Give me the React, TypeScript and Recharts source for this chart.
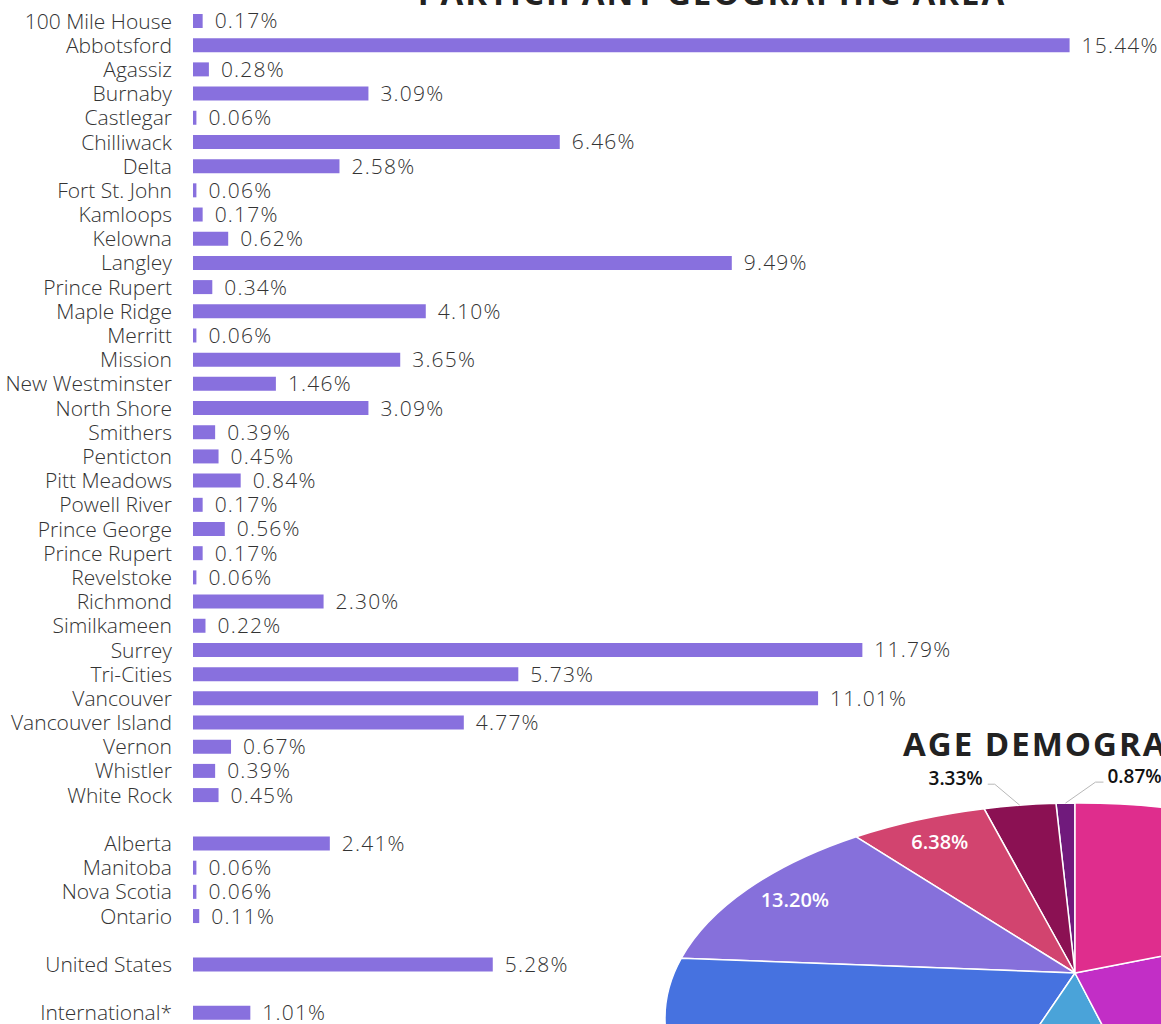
import React from 'react';
import { BarChart, Bar, XAxis, YAxis, LabelList, PieChart, Pie } from 'recharts';

// ---------- Data ----------
const AREAS: string[] = [
  '100 Mile House', 'Abbotsford', 'Agassiz', 'Burnaby', 'Castlegar', 'Chilliwack', 'Delta',
  'Fort St. John', 'Kamloops', 'Kelowna', 'Langley', 'Prince Rupert', 'Maple Ridge', 'Merritt',
  'Mission', 'New Westminster', 'North Shore', 'Smithers', 'Penticton', 'Pitt Meadows',
  'Powell River', 'Prince George', 'Prince Rupert', 'Revelstoke', 'Richmond', 'Similkameen',
  'Surrey', 'Tri-Cities', 'Vancouver', 'Vancouver Island', 'Vernon', 'Whistler', 'White Rock',
  '', 'Alberta', 'Manitoba', 'Nova Scotia', 'Ontario', '', 'United States', '', 'International*',
];
const AREA_SHARES: (number | null)[] = [
  0.17, 15.44, 0.28, 3.09, 0.06, 6.46, 2.58,
  0.06, 0.17, 0.62, 9.49, 0.34, 4.10, 0.06,
  3.65, 1.46, 3.09, 0.39, 0.45, 0.84,
  0.17, 0.56, 0.17, 0.06, 2.30, 0.22,
  11.79, 5.73, 11.01, 4.77, 0.67, 0.39, 0.45,
  null, 2.41, 0.06, 0.06, 0.11, null, 5.28, null, 1.01,
];

const AGE_GROUPS: string[] = ['g1', 'g2', 'g3', 'g4', 'g5', 'g6', 'g7', 'g8'];
const AGE_SHARES: number[] = [0.87, 3.33, 6.38, 13.20, 21.1, 9.1, 27.1, 18.92];
const AGE_COLORS: string[] = ['#701A7C', '#8B1153', '#D2446F', '#8670DB', '#4672E0', '#4AA3D9', '#C22EC6', '#DF2D8D'];

const barRows = AREAS.map((name, i) => ({ name, value: AREA_SHARES[i] }));
const ageRows = AGE_GROUPS.map((name, i) => ({ name, value: AGE_SHARES[i] }));

// ---------- Pie geometry (tilted look) ----------
const ELL = { dx: 4, dy: 45, rx: 414, ry: 215 };
const DIR = { x: 410, y: 200 };

function rimPoint(ax: number, ay: number, deg: number): [number, number] {
  const ecx = ax + ELL.dx, ecy = ay + ELL.dy;
  const r = (deg * Math.PI) / 180;
  const dx = Math.cos(r) * DIR.x, dy = -Math.sin(r) * DIR.y;
  const u = (ax - ecx) / ELL.rx, v = (ay - ecy) / ELL.ry;
  const p = dx / ELL.rx, q = dy / ELL.ry;
  const A = p * p + q * q, B = u * p + v * q, C = u * u + v * v - 1;
  const t = (-B + Math.sqrt(B * B - A * C)) / A;
  return [ax + t * dx, ay + t * dy];
}

function paramAngle(ax: number, ay: number, pt: [number, number]) {
  const ecx = ax + ELL.dx, ecy = ay + ELL.dy;
  return Math.atan2(-(pt[1] - ecy) / ELL.ry, (pt[0] - ecx) / ELL.rx);
}

const renderSlice = (props: any) => {
  const { cx, cy, startAngle, endAngle, midAngle, index, percent } = props;
  const s = rimPoint(cx, cy, startAngle);
  const e = rimPoint(cx, cy, endAngle);
  let diff = paramAngle(cx, cy, e) - paramAngle(cx, cy, s);
  while (diff < 0) diff += Math.PI * 2;
  const large = diff > Math.PI ? 1 : 0;
  const d = `M ${cx} ${cy} L ${s[0]} ${s[1]} A ${ELL.rx} ${ELL.ry} 0 ${large} 0 ${e[0]} ${e[1]} Z`;
  const m = rimPoint(cx, cy, midAngle);
  const text = `${(percent * 100).toFixed(2)}%`;
  let labelEl: React.ReactNode;
  if (percent >= 0.05) {
    const lx = cx + 0.86 * (m[0] - cx);
    const ly = cy + 0.86 * (m[1] - cy);
    labelEl = (
      <text x={lx} y={ly} textAnchor="middle" dominantBaseline="central" fill="#ffffff"
        fontFamily="Open Sans" fontWeight={600} fontSize={20}>{text}</text>
    );
  } else {
    const left = midAngle > 95;
    const ex = m[0] + (left ? -25 : 30);
    const ey = m[1] - 21;
    const hx = ex + (left ? -7 : 8);
    labelEl = (
      <g>
        <polyline points={`${m[0]},${m[1]} ${ex},${ey} ${hx},${ey}`} fill="none" stroke="#b8b8b8" strokeWidth={1} />
        <text x={hx + (left ? -5 : 4)} y={ey + 1} textAnchor={left ? 'end' : 'start'} fill="#111"
          fontFamily="Open Sans" fontWeight={600} fontSize={19}>{text}</text>
      </g>
    );
  }
  return (
    <g>
      <path d={d} fill={AGE_COLORS[index]} stroke="#ffffff" strokeWidth={1.5} strokeLinejoin="round" />
      {labelEl}
    </g>
  );
};

const fmtPct = (v: any) => (v === null || v === undefined || v === '' ? '' : `${Number(v).toFixed(2)}%`);

export default function App() {
  return (
    <div style={{ position: 'absolute', left: 0, top: 0, width: 1161, height: 1024, overflow: 'hidden', background: '#ffffff' }}>
      <div style={{ position: 'absolute', left: 0, top: 0 }}>
        <BarChart width={1161} height={1026} data={barRows} layout="vertical"
          margin={{ top: 9, right: 0, bottom: 1, left: 0 }}>
          <XAxis type="number" hide domain={[0, 17.05]} allowDataOverflow />
          <YAxis type="category" dataKey="name" width={193} interval={0} tickLine={false} axisLine={false}
            tickSize={0} tickMargin={21}
            tick={{ fill: '#333333', fontSize: 21, fontFamily: 'Open Sans', fontWeight: 300 }} />
          <Bar dataKey="value" fill="#8870DE" barSize={14} isAnimationActive={false}>
            <LabelList dataKey="value" position="right" offset={12} formatter={fmtPct}
              style={{ fill: '#333333', fontSize: 21, fontFamily: 'Open Sans', fontWeight: 300, letterSpacing: 1.2 }} />
          </Bar>
        </BarChart>
      </div>
      <div style={{ position: 'absolute', left: 0, top: 0 }}>
        <PieChart width={1161} height={1024} margin={{ top: 0, right: 0, bottom: 0, left: 0 }}>
          <Pie data={ageRows} dataKey="value" nameKey="name" cx={1075} cy={973} outerRadius={170}
            startAngle={90} endAngle={450} fill="none" stroke="none" labelLine={false}
            label={renderSlice} isAnimationActive={false} />
        </PieChart>
      </div>
      <svg width={1161} height={1024} style={{ position: 'absolute', left: 0, top: 0, pointerEvents: 'none' }}>
        <text x={712} y={5} textAnchor="middle" fill="#222222" fontFamily="Open Sans" fontWeight={700} fontSize={33}
          letterSpacing={2}>
          PARTICIPANT GEOGRAPHIC AREA
        </text>
        <text x={903} y={756} textAnchor="start" fill="#222222" fontFamily="Open Sans" fontWeight={700} fontSize={33}
          letterSpacing={2}>
          AGE DEMOGRAPHICS
        </text>
      </svg>
    </div>
  );
}
